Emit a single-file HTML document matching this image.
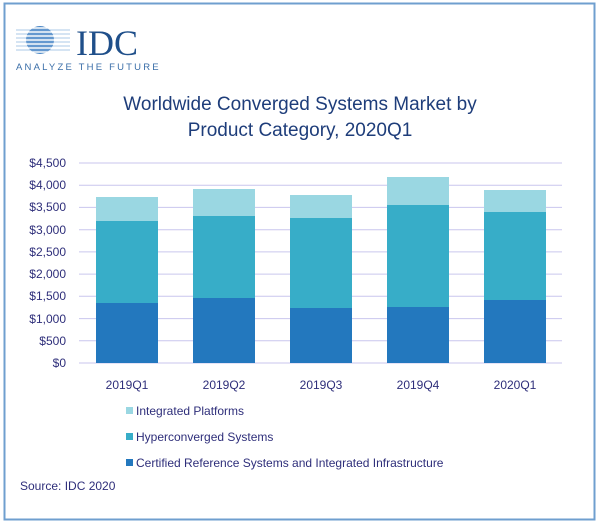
<!DOCTYPE html>
<html><head><meta charset="utf-8"><style>
body{margin:0;background:#fff;width:600px;height:525px;overflow:hidden;font-family:"Liberation Sans",sans-serif}
</style></head><body>
<svg width="600" height="525" xmlns="http://www.w3.org/2000/svg" font-family="Liberation Sans, sans-serif">
<rect x="4.5" y="3.5" width="590" height="516" fill="#fff" stroke="#6f9fcf" stroke-width="2"/>
<!-- logo -->
<g>
<circle cx="40" cy="40" r="14" fill="#4a86c5"/>
<g stroke="#fff" stroke-width="1.6">
<line x1="20" y1="28" x2="62" y2="28"/><line x1="20" y1="32" x2="62" y2="32"/><line x1="20" y1="36" x2="62" y2="36"/><line x1="20" y1="40" x2="62" y2="40"/><line x1="20" y1="44" x2="62" y2="44"/><line x1="20" y1="48" x2="62" y2="48"/><line x1="20" y1="52" x2="62" y2="52"/>
</g>
<g stroke="#8fb7df" stroke-width="0.8">
<line x1="16" y1="30" x2="70" y2="30"/><line x1="16" y1="34" x2="70" y2="34"/><line x1="16" y1="38" x2="70" y2="38"/><line x1="16" y1="42" x2="70" y2="42"/><line x1="16" y1="46" x2="70" y2="46"/><line x1="16" y1="50" x2="70" y2="50"/>
</g>
<text x="76" y="55" font-family="Liberation Serif, serif" font-size="36" fill="#1f4f8a">IDC</text>
<text x="16" y="70" font-size="9.5" letter-spacing="2.2" fill="#3a6ea8">ANALYZE THE FUTURE</text>
</g>
<text x="300" y="110" text-anchor="middle" font-size="19" fill="#1e3d7a">Worldwide Converged Systems Market by</text>
<text x="300" y="136" text-anchor="middle" font-size="19" fill="#1e3d7a">Product Category, 2020Q1</text>
<g stroke="#c9c6ee" stroke-width="1">
<line x1="79" y1="163" x2="562" y2="163"/><line x1="79" y1="185.2" x2="562" y2="185.2"/><line x1="79" y1="207.4" x2="562" y2="207.4"/><line x1="79" y1="229.7" x2="562" y2="229.7"/><line x1="79" y1="251.9" x2="562" y2="251.9"/><line x1="79" y1="274.1" x2="562" y2="274.1"/><line x1="79" y1="296.3" x2="562" y2="296.3"/><line x1="79" y1="318.6" x2="562" y2="318.6"/><line x1="79" y1="340.8" x2="562" y2="340.8"/><line x1="79" y1="363" x2="562" y2="363"/>
</g>
<g font-size="12" fill="#2e2e7a" text-anchor="end">
<text x="66" y="167">$4,500</text><text x="66" y="189">$4,000</text><text x="66" y="211">$3,500</text><text x="66" y="234">$3,000</text><text x="66" y="256">$2,500</text><text x="66" y="278">$2,000</text><text x="66" y="300">$1,500</text><text x="66" y="323">$1,000</text><text x="66" y="345">$500</text><text x="66" y="367">$0</text>
</g>
<g>
<rect x="96" y="197" width="62" height="24" fill="#9ad7e2"/><rect x="96" y="221" width="62" height="82" fill="#37adc8"/><rect x="96" y="303" width="62" height="60" fill="#2378be"/>
<rect x="193" y="189" width="62" height="27" fill="#9ad7e2"/><rect x="193" y="216" width="62" height="82" fill="#37adc8"/><rect x="193" y="298" width="62" height="65" fill="#2378be"/>
<rect x="290" y="195" width="62" height="23" fill="#9ad7e2"/><rect x="290" y="218" width="62" height="90" fill="#37adc8"/><rect x="290" y="308" width="62" height="55" fill="#2378be"/>
<rect x="387" y="177" width="62" height="28" fill="#9ad7e2"/><rect x="387" y="205" width="62" height="102" fill="#37adc8"/><rect x="387" y="307" width="62" height="56" fill="#2378be"/>
<rect x="484" y="190" width="62" height="22" fill="#9ad7e2"/><rect x="484" y="212" width="62" height="88" fill="#37adc8"/><rect x="484" y="300" width="62" height="63" fill="#2378be"/>
</g>
<g font-size="12" fill="#2e2e7a" text-anchor="middle">
<text x="127" y="389">2019Q1</text><text x="224" y="389">2019Q2</text><text x="321" y="389">2019Q3</text><text x="418" y="389">2019Q4</text><text x="515" y="389">2020Q1</text>
</g>
<g font-size="12" fill="#2e2e7a">
<rect x="126" y="407" width="7" height="7" fill="#9ad7e2"/><text x="136" y="415">Integrated Platforms</text>
<rect x="126" y="433" width="7" height="7" fill="#37adc8"/><text x="136" y="441">Hyperconverged Systems</text>
<rect x="126" y="459" width="7" height="7" fill="#2378be"/><text x="136" y="467">Certified Reference Systems and Integrated Infrastructure</text>
<text x="20" y="490">Source: IDC 2020</text>
</g>
</svg>
</body></html>
